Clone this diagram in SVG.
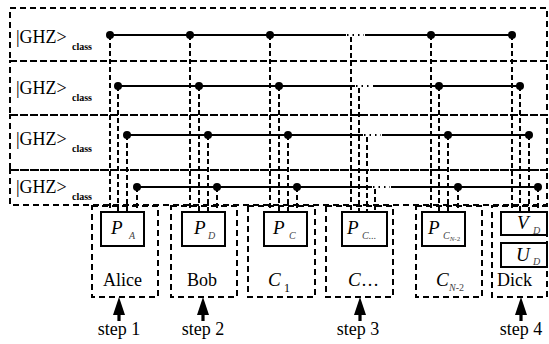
<svg xmlns="http://www.w3.org/2000/svg" width="549" height="344" viewBox="0 0 549 344">
  <defs>
    <style>
      .dbox { fill: none; stroke: #000; stroke-width: 2; stroke-dasharray: 6 4; }
      .vline { fill: none; stroke: #000; stroke-width: 2; stroke-dasharray: 5 3; }
      .wire { fill: none; stroke: #000; stroke-width: 2; }
      .gap { fill: none; stroke: #000; stroke-width: 2; stroke-dasharray: 1.5 4; }
      .dot { fill: #000; }
      .sbox { fill: #fff; stroke: #000; stroke-width: 2; }
      text { font-family: 'Liberation Serif', 'DejaVu Serif', serif; fill: #000; }
      .ghz { font-size: 18px; }
      .cls { font-size: 10px; font-weight: bold; }
      .op { font-size: 19px; font-style: italic; }
      .sub { font-size: 10px; font-style: italic; fill: #444; }
      .name { font-size: 18px; }
      .step { font-size: 18px; text-anchor: middle; }
    </style>
    <g id="arrow">
      <polygon points="0,0 -6,18 6,18" fill="#000"/>
      <rect x="-1.6" y="16" width="3.2" height="8" fill="#000"/>
    </g>
  </defs>
  <rect width="549" height="344" fill="#fff"/>

  <!-- GHZ rows -->
  <g id="row1">
    <rect class="dbox" x="10" y="8" width="537" height="53"/>
    <text class="ghz" x="16" y="43">|GHZ&gt;</text>
    <text class="cls" x="72" y="50">class</text>
  </g>
  <g id="row2">
    <rect class="dbox" x="10" y="61" width="537" height="54"/>
    <text class="ghz" x="16" y="94">|GHZ&gt;</text>
    <text class="cls" x="72" y="101">class</text>
  </g>
  <g id="row3">
    <rect class="dbox" x="10" y="115" width="537" height="55"/>
    <text class="ghz" x="16" y="145">|GHZ&gt;</text>
    <text class="cls" x="72" y="152">class</text>
  </g>
  <g id="row4">
    <rect class="dbox" x="10" y="170" width="537" height="35"/>
    <text class="ghz" x="16" y="193">|GHZ&gt;</text>
    <text class="cls" x="72" y="200">class</text>
  </g>

  <!-- Parties -->
  <g id="alice">
    <rect class="dbox" x="92" y="206" width="66" height="91"/>
    <rect class="sbox" x="101" y="212" width="43" height="34"/>
    <text class="op" x="111" y="234">P</text>
    <text class="sub" x="129" y="239">A</text>
    <text class="name" x="103" y="286">Alice</text>
  </g>
  <g id="bob">
    <rect class="dbox" x="171" y="206" width="66" height="91"/>
    <rect class="sbox" x="182" y="212" width="43" height="34"/>
    <text class="op" x="194" y="234">P</text>
    <text class="sub" x="208" y="239">D</text>
    <text class="name" x="187" y="286">Bob</text>
  </g>
  <g id="c1">
    <rect class="dbox" x="248" y="206" width="67" height="91"/>
    <rect class="sbox" x="264" y="212" width="43" height="34"/>
    <text class="op" x="273" y="234">P</text>
    <text class="sub" x="289" y="239">C</text>
    <text class="op" x="268" y="286">C</text>
    <text x="284" y="292" font-size="12">1</text>
  </g>
  <g id="cdots">
    <rect class="dbox" x="326" y="206" width="67" height="91"/>
    <rect class="sbox" x="342" y="212" width="45" height="34"/>
    <text class="op" x="347" y="234">P</text>
    <text class="sub" x="362" y="239">C...</text>
    <text class="op" x="348" y="286">C</text>
    <text class="name" x="361" y="286">…</text>
  </g>
  <g id="cn2">
    <rect class="dbox" x="416" y="206" width="66" height="91"/>
    <rect class="sbox" x="422" y="212" width="43" height="34"/>
    <text class="op" x="428" y="234">P</text>
    <text class="sub" x="443" y="239">C<tspan font-size="7" dy="2">N</tspan><tspan font-size="7" font-style="normal">-2</tspan></text>
    <text class="op" x="436" y="286">C</text>
    <text class="sub" x="449" y="291" font-size="11">N<tspan font-style="normal">-2</tspan></text>
  </g>
  <g id="dick">
    <rect class="dbox" x="492" y="206" width="55" height="91"/>
    <rect class="sbox" x="501" y="212" width="46" height="23"/>
    <text class="op" x="517" y="229">V</text>
    <text class="sub" x="533" y="234">D</text>
    <rect class="sbox" x="501" y="243" width="46" height="24"/>
    <text class="op" x="516" y="261">U</text>
    <text class="sub" x="533" y="265">D</text>
    <text class="name" x="497" y="286" font-size="19">Dick</text>
  </g>

  <!-- Connectors -->
  <g id="connectors">
    <!-- row 1 wire -->
    <path class="wire" d="M110,35 H346 M365,35 H512"/>
    <path class="gap" d="M347,35 H364"/>
    <!-- row 2 wire -->
    <path class="wire" d="M118,86 H355 M373,86 H520"/>
    <path class="gap" d="M356,86 H372"/>
    <!-- row 3 wire -->
    <path class="wire" d="M127,135 H363 M382,135 H529"/>
    <path class="gap" d="M364,135 H381"/>
    <!-- row 4 wire -->
    <path class="wire" d="M137,187 H372 M391,187 H538"/>
    <path class="gap" d="M373,187 H390"/>

    <!-- drops from row 1 -->
    <path class="vline" d="M110,35 V212 M190,35 V212 M270,35 V212 M351,37 V212 M431,35 V212 M512,35 V212"/>
    <!-- drops from row 2 -->
    <path class="vline" d="M118,86 V212 M199,86 V212 M279,86 V212 M359,88 V212 M439,86 V212 M520,86 V212"/>
    <!-- drops from row 3 -->
    <path class="vline" d="M127,135 V212 M208,135 V212 M288,135 V212 M367,137 V212 M448,135 V212 M529,135 V212"/>
    <!-- drops from row 4 -->
    <path class="vline" d="M137,187 V212 M217,187 V212 M297,187 V212 M375,189 V212 M458,187 V212 M538,187 V212"/>

    <!-- entanglement dots -->
    <circle class="dot" cx="110" cy="35" r="4"/><circle class="dot" cx="190" cy="35" r="4"/>
    <circle class="dot" cx="270" cy="35" r="4"/><circle class="dot" cx="431" cy="35" r="4"/>
    <circle class="dot" cx="512" cy="35" r="4"/>
    <circle class="dot" cx="118" cy="86" r="4"/><circle class="dot" cx="199" cy="86" r="4"/>
    <circle class="dot" cx="279" cy="86" r="4"/><circle class="dot" cx="439" cy="86" r="4"/>
    <circle class="dot" cx="520" cy="86" r="4"/>
    <circle class="dot" cx="127" cy="135" r="4"/><circle class="dot" cx="208" cy="135" r="4"/>
    <circle class="dot" cx="288" cy="135" r="4"/><circle class="dot" cx="448" cy="135" r="4"/>
    <circle class="dot" cx="529" cy="135" r="4"/>
    <circle class="dot" cx="137" cy="187" r="4"/><circle class="dot" cx="217" cy="187" r="4"/>
    <circle class="dot" cx="297" cy="187" r="4"/><circle class="dot" cx="458" cy="187" r="4"/>
    <circle class="dot" cx="538" cy="187" r="4"/>

    <!-- step arrows -->
    <use href="#arrow" x="119" y="297"/>
    <use href="#arrow" x="203" y="297"/>
    <use href="#arrow" x="360" y="297"/>
    <use href="#arrow" x="521" y="297"/>
  </g>

  <!-- step labels -->
  <g id="steps">
    <text class="step" x="119" y="335">step 1</text>
    <text class="step" x="203" y="335">step 2</text>
    <text class="step" x="358" y="335">step 3</text>
    <text class="step" x="521" y="335">step 4</text>
  </g>
</svg>
